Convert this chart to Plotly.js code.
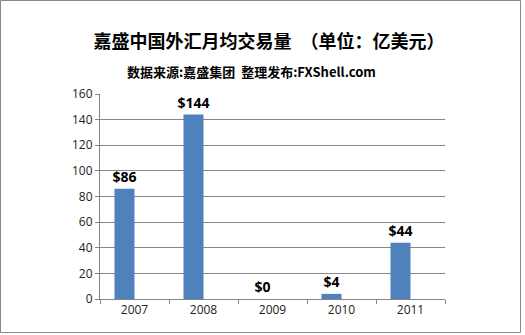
<!DOCTYPE html>
<html>
<head>
<meta charset="utf-8">
<script src="https://cdn.plot.ly/plotly-3.0.1.min.js"></script>
<style>
html,body{margin:0;padding:0;background:#fff;}
#chart{width:525px;height:335px;}
</style>
</head>
<body>
<div id="chart"></div>
<script>
const years = ["2007", "2008", "2009", "2010", "2011"];
const volumes = [86, 144, 0, 4, 44];
const labels = ["$86", "$144", "$0", "$4", "$44"];
const yTicks = [0, 20, 40, 60, 80, 100, 120, 140, 160];

const trace = {
  type: "bar",
  x: years,
  y: volumes,
  text: labels,
  textposition: "outside",
  constraintext: "none",
  textfont: {family: "Open Sans, sans-serif", size: 14, color: "#000", weight: "bold"},
  cliponaxis: false,
  width: 0.29,
  offset: -0.29,
  marker: {color: "#4F81BD"},
  hoverinfo: "none"
};

const L = 100, R = 445, T = 94, B = 299;
const pw = R - L, ph = B - T;
const px = v => (v - L) / pw;
const py = v => (B - v) / ph;

const layout = {
  width: 525, height: 335,
  margin: {l: L, r: 525 - R, t: T, b: 335 - B, pad: 0},
  paper_bgcolor: "#fff", plot_bgcolor: "#fff",
  showlegend: false,
  title: {
    text: "<b>嘉盛中国外汇月均交易量　（单位：亿美元）</b>",
    font: {family: "Noto Sans CJK SC, sans-serif", size: 18, color: "#000"},
    x: 0.49, xanchor: "center", y: 1 - 42/335, yanchor: "middle", xref: "paper", yref: "container"
  },
  annotations: [{
    text: "<b>数据来源:嘉盛集团 \u00a0整理发布:FXShell.com</b>",
    xref: "paper", yref: "paper", x: px(251), y: py(72),
    xanchor: "center", yanchor: "middle", showarrow: false,
    font: {family: "Noto Sans CJK SC, sans-serif", size: 13, color: "#000"}
  }],
  xaxis: {
    type: "category",
    tickson: "boundaries",
    ticks: "outside", ticklen: 4, tickcolor: "#868686",
    showline: true, linecolor: "#868686", linewidth: 1,
    showgrid: false,
    tickfont: {family: "Open Sans, sans-serif", size: 12, color: "#222"},
    fixedrange: true
  },
  yaxis: {
    range: [0, 160],
    tickvals: yTicks,
    ticks: "outside", ticklen: 4, tickcolor: "#868686",
    showline: true, linecolor: "#868686", linewidth: 1,
    showgrid: true, gridcolor: "#868686", gridwidth: 1,
    zeroline: false,
    tickfont: {family: "Open Sans, sans-serif", size: 12, color: "#222"},
    fixedrange: true
  },
  shapes: [{
    type: "rect", xref: "paper", yref: "paper",
    x0: px(0.5), x1: px(520.5), y0: py(0.5), y1: py(332.5),
    line: {color: "#888", width: 1}, fillcolor: "rgba(0,0,0,0)", layer: "below"
  }]
};

Plotly.newPlot("chart", [trace], layout, {displayModeBar: false, staticPlot: true});
</script>
</body>
</html>
